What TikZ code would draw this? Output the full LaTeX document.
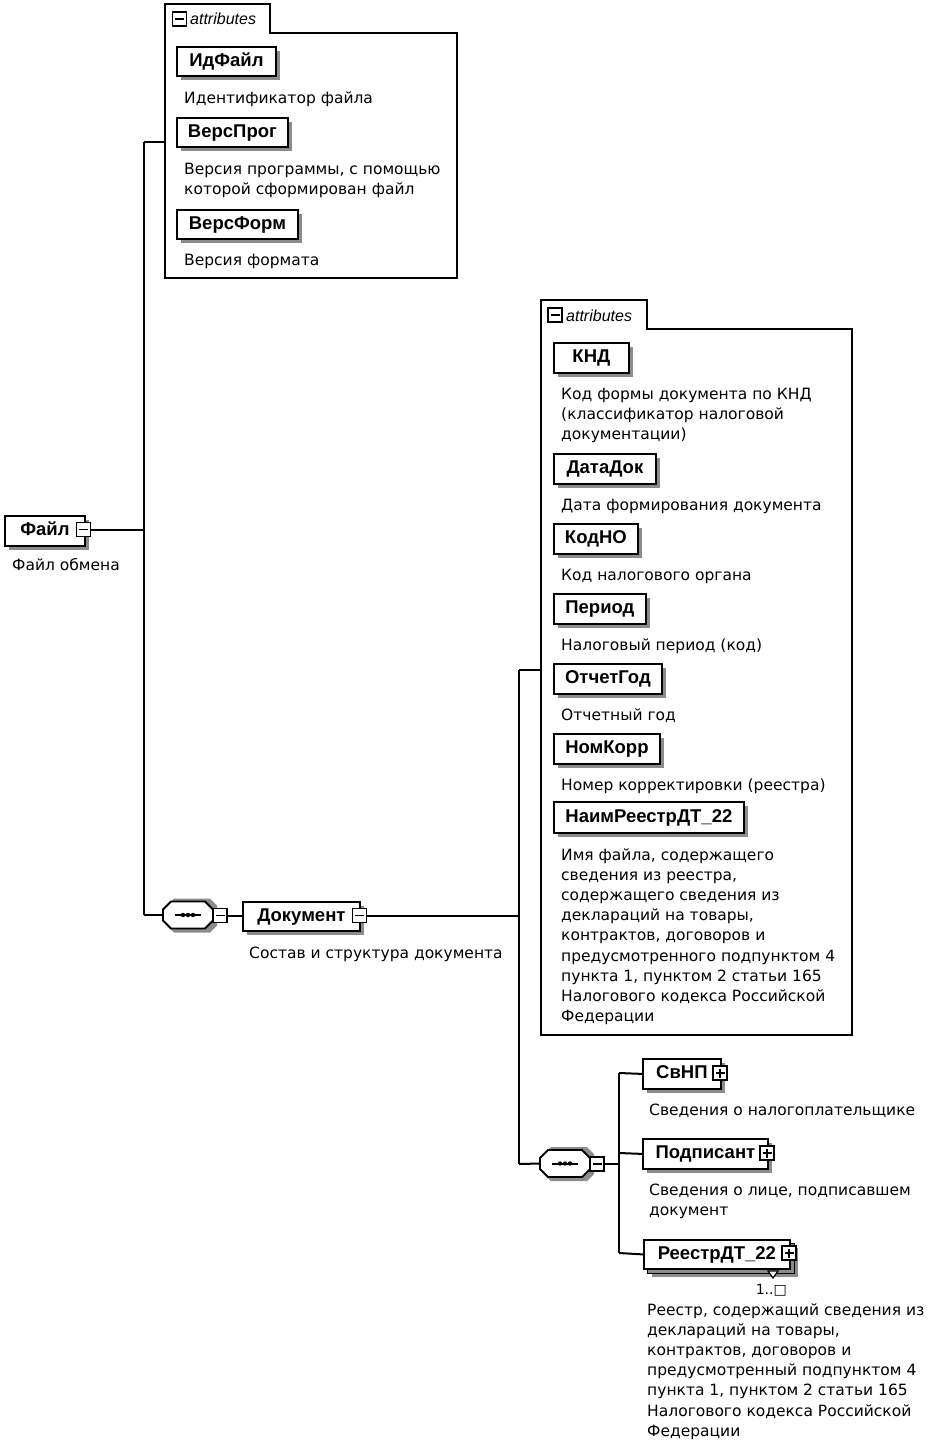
\documentclass[tikz,border=0pt]{standalone}
\usepackage{fontspec}
\setmainfont{DejaVu Sans}
\newfontfamily\namefont{Liberation Sans}
\usetikzlibrary{shadows}
\tikzset{
  conn/.style={line width=2pt},
  shad/.style={drop shadow={shadow xshift=4pt,shadow yshift=-4pt,fill=black!45,opacity=1}},
  elem/.style={draw, line width=1.8pt, fill=white, anchor=north west, minimum height=29pt,
    inner xsep=6pt, inner ysep=0pt, text height=13.5pt, text depth=3.5pt,
    font=\namefont\bfseries\fontsize{18.5}{20}\selectfont, shad},
  plainbox/.style={draw, line width=1.8pt, fill=white, anchor=north west, minimum height=29pt, inner sep=0pt},
  desc/.style={anchor=base west, align=left, inner sep=0pt, font=\fontsize{15.5}{20.2}\selectfont},
  attrlabel/.style={anchor=base west, inner sep=0pt, font=\namefont\itshape\fontsize{16}{18}\selectfont},
  outline/.style={line width=1.8pt},
  minusbox/.style={draw, line width=1.2pt, fill=white, minimum size=14pt, inner sep=0pt,
    path picture={\draw[line width=1.3pt] ([xshift=2.5pt]path picture bounding box.west) -- ([xshift=-2.5pt]path picture bounding box.east);}},
  plusbox/.style={draw, line width=1.2pt, fill=white, minimum size=14pt, inner sep=0pt,
    path picture={\draw[line width=1.3pt] ([xshift=2.5pt]path picture bounding box.west) -- ([xshift=-2.5pt]path picture bounding box.east);
      \draw[line width=1.3pt] ([yshift=2.5pt]path picture bounding box.south) -- ([yshift=-2.5pt]path picture bounding box.north);}},
  seqbox/.style={minimum width=50pt, minimum height=27pt, inner sep=0pt},
  multlabel/.style={anchor=base east, inner sep=0pt, font=\fontsize{14}{16}\selectfont}
}
\newcommand\seqicon[3]{%
  \fill[black!45] (#2-21,#3-9.5) -- (#2-14,#3-16.5) -- (#2+22,#3-16.5) -- (#2+29,#3-9.5) -- (#2+29,#3+10.5) -- (#2+22,#3+17.5) -- (#2-14,#3+17.5) -- (#2-21,#3+10.5) -- cycle;
  \draw[line width=1.8pt, fill=white] (#2-25,#3-5.5) -- (#2-17,#3-13.5) -- (#2+17,#3-13.5) -- (#2+25,#3-5.5) -- (#2+25,#3+5.5) -- (#2+17,#3+13.5) -- (#2-17,#3+13.5) -- (#2-25,#3+5.5) -- cycle;
  \node[seqbox] (#1) at (#2,#3) {};
  \draw[line width=2pt] (#2-13,#3) -- (#2+13,#3);
  \foreach \dx in {-5,0,5} \fill (#2+\dx,#3) circle (2.2pt);
}
\begin{document}
\begin{tikzpicture}[x=1pt,y=-1pt]
\useasboundingbox[fill=white] (0,0) rectangle (932,1445);

% ---------- attributes box A ----------
\draw[outline] (165,278) -- (165,4) -- (270,4) -- (270,33) -- (457,33) -- (457,278) -- cycle;
\node[minusbox] (attrAminus) at (179.5,19) {};
\node[attrlabel] (attrAlabel) at (190,25) {attributes};
\coordinate (attrAin) at (165,142);

\node[elem, minimum width=99pt] (idfile) at (176,46) {ИдФайл};
\node[desc] (idfiled) at (184,103) {Идентификатор файла};
\node[elem, minimum width=111pt] (versprog) at (176,117) {ВерсПрог};
\node[desc] (versprogd) at (184,194.2) {Версия программы, с помощью\\которой сформирован файл};
\node[elem, minimum width=121pt] (versform) at (176,209) {ВерсФорм};
\node[desc] (versformd) at (184,265) {Версия формата};

% ---------- root ----------
\node[elem, minimum width=80pt, minimum height=30pt] (file) at (4,515) {Файл\hspace{8pt}};
\node[minusbox] (fileexp) at (83.5,529.5) {};
\node[desc] (filed) at (12,570) {Файл обмена};

\coordinate (j1top) at (144,142);
\coordinate (j1mid) at (144,529.5);
\coordinate (j1bot) at (144,915);
\draw[conn] (fileexp.east) -- (j1mid);
\draw[conn] (j1top) -- (j1bot);
\draw[conn] (j1top) -- (attrAin);

% ---------- sequence 1 / Документ ----------
\seqicon{seq1}{188}{915}
\node[minusbox] (seq1exp) at (220,915.5) {};
\draw[conn] (j1bot) -- (seq1.west);
\node[elem, minimum width=117pt] (doc) at (242,901) {Документ\hspace{8pt}};
\node[minusbox] (docexp) at (359.5,915.5) {};
\draw[conn] (seq1exp.east) -- (doc.west |- seq1exp.east);
\node[desc] (docd) at (249,958) {Состав и структура документа};

\coordinate (j2top) at (519,670);
\coordinate (j2mid) at (519,915.5);
\coordinate (j2bot) at (519,1164);
\draw[conn] (docexp.east) -- (j2mid);
\draw[conn] (j2top) -- (j2bot);

% ---------- attributes box B ----------
\draw[outline] (541,1035) -- (541,300) -- (647,300) -- (647,329) -- (852,329) -- (852,1035) -- cycle;
\node[minusbox] (attrBminus) at (555,315) {};
\node[attrlabel] (attrBlabel) at (566,321) {attributes};
\coordinate (attrBin) at (541,670);
\draw[conn] (j2top) -- (attrBin);

\node[elem, minimum width=75pt, minimum height=30pt] (knd) at (553,342) {КНД};
\node[desc] (kndd) at (561,439.4) {Код формы документа по КНД\\(классификатор налоговой\\документации)};
\node[elem, minimum width=102pt, minimum height=30pt] (datadok) at (553,453) {ДатаДок};
\node[desc] (datadokd) at (561,510) {Дата формирования документа};
\node[elem, minimum width=84pt, minimum height=30pt] (kodno) at (553,523) {КодНО};
\node[desc] (kodnod) at (561,580) {Код налогового органа};
\node[elem, minimum width=92pt, minimum height=30pt] (period) at (553,593) {Период};
\node[desc] (periodd) at (561,650) {Налоговый период (код)};
\node[elem, minimum width=108pt, minimum height=30pt] (otchgod) at (553,663) {ОтчетГод};
\node[desc] (otchgodd) at (561,720) {Отчетный год};
\node[elem, minimum width=106pt, minimum height=30pt] (nomkorr) at (553,733) {НомКорр};
\node[desc] (nomkorrd) at (561,790) {Номер корректировки (реестра)};
\node[elem, minimum width=190pt, minimum height=31pt] (naim) at (553,801) {НаимРеестрДТ\_22};
\node[desc] (naimd) at (561,1021.6) {Имя файла, содержащего\\сведения из реестра,\\содержащего сведения из\\деклараций на товары,\\контрактов, договоров и\\предусмотренного подпунктом 4\\пункта 1, пунктом 2 статьи 165\\Налогового кодекса Российской\\Федерации};

% ---------- sequence 2 ----------
\seqicon{seq2}{565}{1163.5}
\node[minusbox] (seq2exp) at (597,1164) {};
\draw[conn] (j2bot) -- (seq2.west);

\coordinate (j3top) at (619,1073);
\coordinate (j3mid) at (619,1164);
\coordinate (j3sub) at (619,1153);
\coordinate (j3bot) at (619,1253);
\draw[conn] (seq2exp.east) -- (j3mid);
\draw[conn] (j3top) -- (j3bot);

\node[elem, minimum width=78pt, minimum height=30pt] (svnp) at (642,1058) {СвНП\hspace{8pt}};
\node[plusbox] (svnpexp) at (720,1073) {};
\node[desc] (svnpd) at (649,1115) {Сведения о налогоплательщике};
\draw[conn] (j3top) -- (svnp.west);

\node[elem, minimum width=125pt, minimum height=30pt] (podp) at (642,1138) {Подписант\hspace{8pt}};
\node[plusbox] (podpexp) at (767,1153) {};
\node[desc] (podpd) at (649,1215.2) {Сведения о лице, подписавшем\\документ};
\draw[conn] (j3sub) -- (podp.west);

\node[plainbox, minimum width=146pt, shad] (reestrback) at (647,1243) {};
\node[elem, minimum width=146pt, drop shadow={opacity=0}] (reestr) at (643,1239) {РеестрДТ\_22\hspace{8pt}};
\node[plusbox] (reestrexp) at (789,1253) {};
\draw[line width=1.2pt, fill=white] (768,1271) -- (778,1271) -- (773,1278) -- cycle;
\node[multlabel] (reestrmult) at (787,1294) {1..□};
\node[desc] (reestrd) at (647,1436.2) {Реестр, содержащий сведения из\\деклараций на товары,\\контрактов, договоров и\\предусмотренный подпунктом 4\\пункта 1, пунктом 2 статьи 165\\Налогового кодекса Российской\\Федерации};
\draw[conn] (j3bot) -- (reestr.west);
\end{tikzpicture}
\end{document}
